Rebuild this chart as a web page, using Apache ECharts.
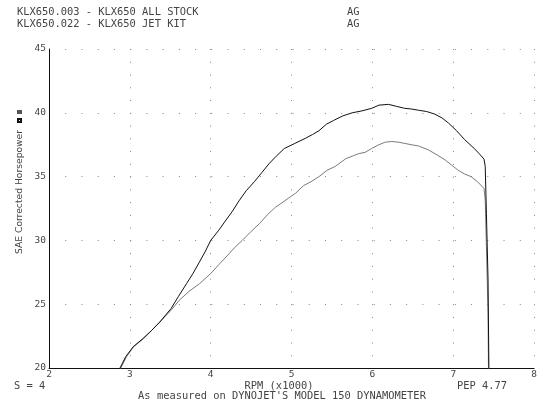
<!DOCTYPE html>
<html><head><meta charset="utf-8">
<script src="https://cdn.jsdelivr.net/npm/echarts@6/dist/echarts.min.js"></script>
<style>html,body{margin:0;padding:0;background:#fff}#c{width:540px;height:405px}</style>
</head><body><div id="c"></div>
<script>
var header1 = "KLX650.003 - KLX650 ALL STOCK";
var header2 = "KLX650.022 - KLX650 JET KIT";
var xTicks = [2,3,4,5,6,7,8];
var yTicks = [20,25,30,35,40,45];
var jetKit = [[2.87,19.9],[2.95,20.9],[3.04,21.65],[3.16,22.3],[3.27,22.95],[3.37,23.6],[3.51,24.66],[3.60,25.6],[3.70,26.6],[3.78,27.4],[3.86,28.3],[3.93,29.1],[4.0,30.0],[4.10,30.8],[4.19,31.6],[4.27,32.3],[4.35,33.1],[4.44,33.9],[4.54,34.6],[4.63,35.3],[4.72,36.0],[4.81,36.6],[4.91,37.2],[5.04,37.6],[5.17,38.0],[5.26,38.3],[5.34,38.6],[5.43,39.1],[5.52,39.4],[5.63,39.75],[5.75,40.0],[5.87,40.15],[5.99,40.35],[6.08,40.6],[6.20,40.66],[6.30,40.5],[6.40,40.35],[6.48,40.3],[6.57,40.2],[6.67,40.1],[6.77,39.9],[6.86,39.6],[6.94,39.2],[7.04,38.6],[7.14,37.9],[7.26,37.2],[7.32,36.8],[7.38,36.37],[7.395,35.8],[7.41,32.1],[7.43,26.9],[7.44,20.1],[7.445,19.5]];
var allStock = [[2.88,19.9],[2.96,20.9],[3.05,21.7],[3.17,22.3],[3.27,22.95],[3.37,23.6],[3.43,24.0],[3.52,24.6],[3.61,25.3],[3.73,26.0],[3.86,26.6],[4.0,27.4],[4.10,28.1],[4.19,28.7],[4.29,29.4],[4.39,30.0],[4.50,30.7],[4.60,31.3],[4.70,32.0],[4.80,32.6],[4.87,32.9],[4.96,33.3],[5.05,33.7],[5.15,34.3],[5.24,34.6],[5.34,35.0],[5.44,35.5],[5.54,35.8],[5.67,36.4],[5.75,36.6],[5.83,36.8],[5.91,36.9],[5.99,37.2],[6.08,37.5],[6.16,37.7],[6.24,37.75],[6.32,37.7],[6.40,37.6],[6.48,37.5],[6.57,37.4],[6.69,37.1],[6.80,36.7],[6.90,36.3],[6.98,35.9],[7.06,35.5],[7.14,35.2],[7.22,35.0],[7.30,34.6],[7.38,34.07],[7.395,33.15],[7.41,29.5],[7.43,24.3],[7.435,20.1],[7.44,19.5]];

var MONO = "DejaVu Sans Mono";
var SANS = "DejaVu Sans";
var TXT = "#444";
var chart = echarts.init(document.getElementById('c'), null, {renderer:'canvas'});
var gl = {left:49, right:4, top:49, bottom:37};
var plotW = 540 - gl.left - gl.right, plotH = 405 - gl.top - gl.bottom;
var xUnit = plotW / (xTicks[xTicks.length-1]-xTicks[0]);
var yUnit = plotH / (yTicks[yTicks.length-1]-yTicks[0]);
function t(text, x, y, align){ return {type:'text', x:x, y:y, style:{text:text, fill:TXT, font:'10.4px "'+MONO+'"', textAlign:align||'left', textVerticalAlign:'middle'}}; }
chart.setOption({
  animation:false,
  backgroundColor:'#fff',
  grid:gl,
  xAxis:{type:'value', min:xTicks[0], max:xTicks[xTicks.length-1], interval:1,
    axisLine:{show:true, onZero:false, lineStyle:{color:'#111', width:1}},
    axisTick:{show:false},
    axisLabel:{color:TXT, fontFamily:MONO, fontSize:9.5, margin:2},
    splitLine:{show:true, lineStyle:{color:'#888', width:1, type:[1, yUnit-1]}}},
  yAxis:{type:'value', min:yTicks[0], max:yTicks[yTicks.length-1], interval:5,
    axisLine:{show:true, onZero:false, lineStyle:{color:'#111', width:1}},
    axisTick:{show:false},
    axisLabel:{color:TXT, fontFamily:MONO, fontSize:9.5, margin:3},
    splitLine:{show:true, lineStyle:{color:'#888', width:1, type:[1, xUnit*0.2-1]}}},
  series:[
    {type:'line', name:'ALL STOCK', data:allStock, symbol:'none', lineStyle:{color:'#7a7a7a', width:1}, clip:true},
    {type:'line', name:'JET KIT', data:jetKit, symbol:'none', lineStyle:{color:'#111', width:1}, clip:true}
  ],
  graphic:[
    t(header1, 17, 12), t("AG", 347, 12),
    t(header2, 17, 24), t("AG", 347, 24),
    t("S = 4", 14, 386),
    t("RPM (x1000)", 279, 386, 'center'),
    t("PEP 4.77", 457, 386),
    t("As measured on DYNOJET'S MODEL 150 DYNAMOMETER", 282, 396, 'center'),
    {type:'text', x:20, y:192, rotation:Math.PI/2, style:{text:"SAE Corrected Horsepower", fill:TXT, font:'9.2px "'+SANS+'"', textAlign:'center', textVerticalAlign:'middle'}},
    {type:'rect', shape:{x:17, y:110, width:5, height:4}, style:{fill:'#555'}},
    {type:'rect', shape:{x:17, y:118, width:5, height:5}, style:{fill:'#111'}},
    {type:'rect', shape:{x:19, y:120, width:1, height:1}, style:{fill:'#fff'}}
  ]
});
</script></body></html>
